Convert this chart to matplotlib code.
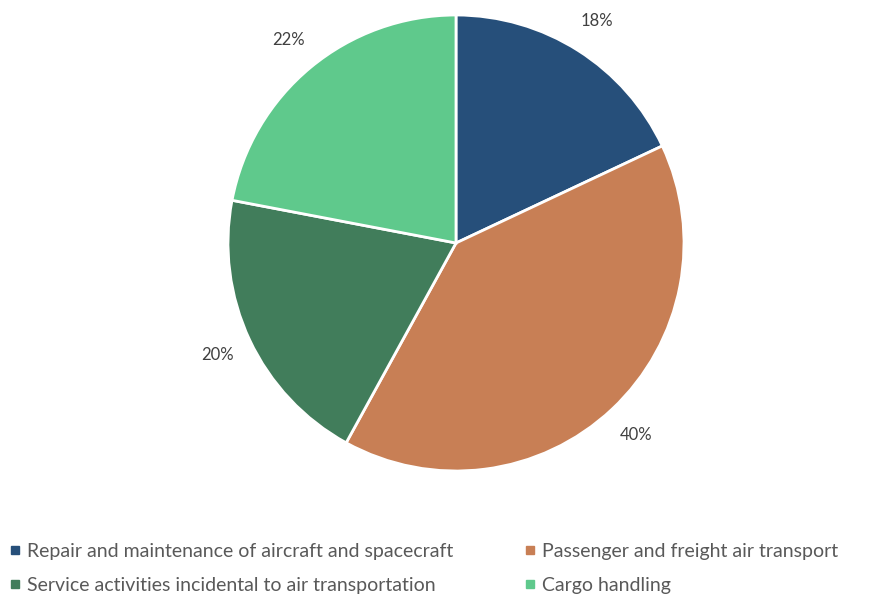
import matplotlib
matplotlib.use("Agg")
import matplotlib.pyplot as plt
from matplotlib.lines import Line2D

categories = ["Repair and maintenance of aircraft and spacecraft",
              "Passenger and freight air transport",
              "Service activities incidental to air transportation",
              "Cargo handling"]
values = [18, 40, 20, 22]
colors = ["#264F7A", "#C87F55", "#417D5B", "#5FC98C"]

plt.rcParams['font.family'] = ['Lato', 'DejaVu Sans']

W, H = 875, 597
fig = plt.figure(figsize=(W/100, H/100), dpi=100)
cx, cy, r = 456, 243, 228
ax = fig.add_axes([(cx-r)/W, (H-cy-r)/H, 2*r/W, 2*r/H])
wedges, texts, autotexts = ax.pie(values, colors=colors, startangle=90, counterclock=False,
       autopct=lambda p: f"{p:.0f}%", pctdistance=1.155, radius=1,
       wedgeprops=dict(edgecolor="white", linewidth=2),
       textprops=dict(color="#404040", fontsize=12))
ax.set_xlim(-1, 1); ax.set_ylim(-1, 1)
ax.set_aspect('equal')
ax.axis('off')

handles = [Line2D([0], [0], marker='s', linestyle='none', markersize=6,
                  markerfacecolor=c, markeredgecolor=c) for c in colors]
order = [0, 2, 1, 3]
leg = fig.legend([handles[i] for i in order], [categories[i] for i in order],
                 ncol=2, loc='upper left',
                 bbox_to_anchor=(0.011, 1 - 543/H), frameon=False, borderaxespad=0,
                 borderpad=0, handlelength=0.55, handletextpad=0.35, columnspacing=3.65,
                 labelspacing=0.85, fontsize=14)
for t in leg.get_texts():
    t.set_color("#595959")

fig.savefig("out.png", dpi=100)
